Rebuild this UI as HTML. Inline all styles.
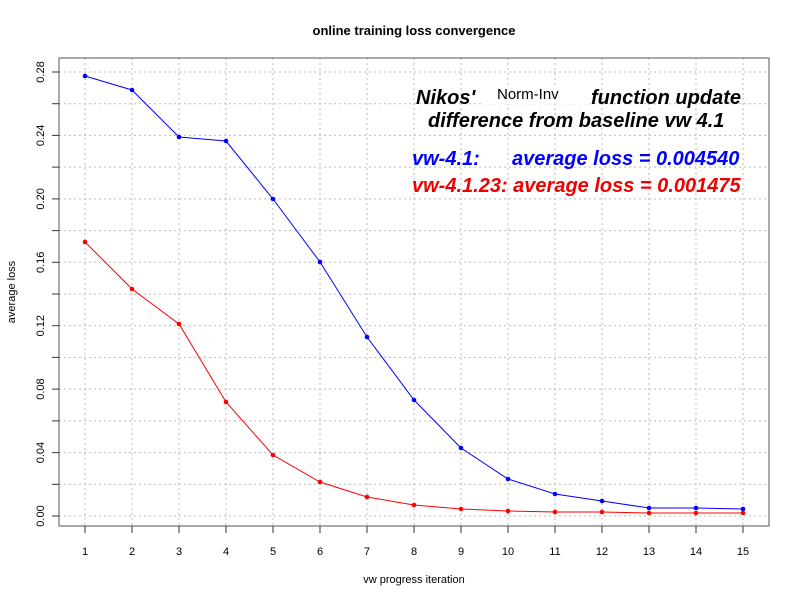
<!DOCTYPE html>
<html><head><style>body{margin:0;background:#fff}svg{display:block;font-family:"Liberation Sans",sans-serif}</style></head><body>
<svg width="800" height="600" viewBox="0 0 800 600">
<rect width="800" height="600" fill="#fff"/>
<g stroke="#bbb" stroke-dasharray="2,3" stroke-width="1">
<line x1="85" y1="58" x2="85" y2="526"/><line x1="132" y1="58" x2="132" y2="526"/><line x1="179" y1="58" x2="179" y2="526"/><line x1="226" y1="58" x2="226" y2="526"/><line x1="273" y1="58" x2="273" y2="526"/><line x1="320" y1="58" x2="320" y2="526"/><line x1="367" y1="58" x2="367" y2="526"/><line x1="414" y1="58" x2="414" y2="526"/><line x1="461" y1="58" x2="461" y2="526"/><line x1="508" y1="58" x2="508" y2="526"/><line x1="555" y1="58" x2="555" y2="526"/><line x1="602" y1="58" x2="602" y2="526"/><line x1="649" y1="58" x2="649" y2="526"/><line x1="696" y1="58" x2="696" y2="526"/><line x1="743" y1="58" x2="743" y2="526"/>
<line x1="59" y1="516" x2="769" y2="516"/><line x1="59" y1="484.3" x2="769" y2="484.3"/><line x1="59" y1="452.6" x2="769" y2="452.6"/><line x1="59" y1="420.9" x2="769" y2="420.9"/><line x1="59" y1="389.1" x2="769" y2="389.1"/><line x1="59" y1="357.4" x2="769" y2="357.4"/><line x1="59" y1="325.7" x2="769" y2="325.7"/><line x1="59" y1="294" x2="769" y2="294"/><line x1="59" y1="262.3" x2="769" y2="262.3"/><line x1="59" y1="230.6" x2="769" y2="230.6"/><line x1="59" y1="198.9" x2="769" y2="198.9"/><line x1="59" y1="167.1" x2="769" y2="167.1"/><line x1="59" y1="135.4" x2="769" y2="135.4"/><line x1="59" y1="103.7" x2="769" y2="103.7"/><line x1="59" y1="72" x2="769" y2="72"/>
</g>
<rect x="59" y="58" width="710" height="468" fill="none" stroke="#555" stroke-width="1"/>
<g stroke="#333">
<line x1="85" y1="526" x2="85" y2="533"/><line x1="132" y1="526" x2="132" y2="533"/><line x1="179" y1="526" x2="179" y2="533"/><line x1="226" y1="526" x2="226" y2="533"/><line x1="273" y1="526" x2="273" y2="533"/><line x1="320" y1="526" x2="320" y2="533"/><line x1="367" y1="526" x2="367" y2="533"/><line x1="414" y1="526" x2="414" y2="533"/><line x1="461" y1="526" x2="461" y2="533"/><line x1="508" y1="526" x2="508" y2="533"/><line x1="555" y1="526" x2="555" y2="533"/><line x1="602" y1="526" x2="602" y2="533"/><line x1="649" y1="526" x2="649" y2="533"/><line x1="696" y1="526" x2="696" y2="533"/><line x1="743" y1="526" x2="743" y2="533"/>
<line x1="52" y1="516" x2="59" y2="516"/><line x1="52" y1="484.3" x2="59" y2="484.3"/><line x1="52" y1="452.6" x2="59" y2="452.6"/><line x1="52" y1="420.9" x2="59" y2="420.9"/><line x1="52" y1="389.1" x2="59" y2="389.1"/><line x1="52" y1="357.4" x2="59" y2="357.4"/><line x1="52" y1="325.7" x2="59" y2="325.7"/><line x1="52" y1="294" x2="59" y2="294"/><line x1="52" y1="262.3" x2="59" y2="262.3"/><line x1="52" y1="230.6" x2="59" y2="230.6"/><line x1="52" y1="198.9" x2="59" y2="198.9"/><line x1="52" y1="167.1" x2="59" y2="167.1"/><line x1="52" y1="135.4" x2="59" y2="135.4"/><line x1="52" y1="103.7" x2="59" y2="103.7"/><line x1="52" y1="72" x2="59" y2="72"/>
</g>
<g font-size="11" text-anchor="middle" fill="#000">
<text x="85" y="555">1</text><text x="132" y="555">2</text><text x="179" y="555">3</text><text x="226" y="555">4</text><text x="273" y="555">5</text><text x="320" y="555">6</text><text x="367" y="555">7</text><text x="414" y="555">8</text><text x="461" y="555">9</text><text x="508" y="555">10</text><text x="555" y="555">11</text><text x="602" y="555">12</text><text x="649" y="555">13</text><text x="696" y="555">14</text><text x="743" y="555">15</text>
<text transform="translate(44,516) rotate(-90)">0.00</text>
<text transform="translate(44,452.6) rotate(-90)">0.04</text>
<text transform="translate(44,389.1) rotate(-90)">0.08</text>
<text transform="translate(44,325.7) rotate(-90)">0.12</text>
<text transform="translate(44,262.3) rotate(-90)">0.16</text>
<text transform="translate(44,198.9) rotate(-90)">0.20</text>
<text transform="translate(44,135.4) rotate(-90)">0.24</text>
<text transform="translate(44,72) rotate(-90)">0.28</text>
<text x="414" y="583">vw progress iteration</text>
<text transform="translate(15,292) rotate(-90)">average loss</text>
<text x="414" y="35" font-weight="bold" font-size="13">online training loss convergence</text>
</g>
<polyline fill="none" stroke="#00f" stroke-width="1" points="85,76 132,90 179,137 226,141 273,199 320,262 367,337 414,400 461,448 508,479 555,494 602,501 649,508 696,508 743,509"/>
<polyline fill="none" stroke="#f00" stroke-width="1" points="85,242 132,289 179,324 226,402 273,455 320,482 367,497 414,505 461,509 508,511 555,512 602,512 649,513 696,513 743,513"/>
<g fill="#00f"><circle cx="85" cy="76" r="2.3"/><circle cx="132" cy="90" r="2.3"/><circle cx="179" cy="137" r="2.3"/><circle cx="226" cy="141" r="2.3"/><circle cx="273" cy="199" r="2.3"/><circle cx="320" cy="262" r="2.3"/><circle cx="367" cy="337" r="2.3"/><circle cx="414" cy="400" r="2.3"/><circle cx="461" cy="448" r="2.3"/><circle cx="508" cy="479" r="2.3"/><circle cx="555" cy="494" r="2.3"/><circle cx="602" cy="501" r="2.3"/><circle cx="649" cy="508" r="2.3"/><circle cx="696" cy="508" r="2.3"/><circle cx="743" cy="509" r="2.3"/></g>
<g fill="#f00"><circle cx="85" cy="242" r="2.3"/><circle cx="132" cy="289" r="2.3"/><circle cx="179" cy="324" r="2.3"/><circle cx="226" cy="402" r="2.3"/><circle cx="273" cy="455" r="2.3"/><circle cx="320" cy="482" r="2.3"/><circle cx="367" cy="497" r="2.3"/><circle cx="414" cy="505" r="2.3"/><circle cx="461" cy="509" r="2.3"/><circle cx="508" cy="511" r="2.3"/><circle cx="555" cy="512" r="2.3"/><circle cx="602" cy="512" r="2.3"/><circle cx="649" cy="513" r="2.3"/><circle cx="696" cy="513" r="2.3"/><circle cx="743" cy="513" r="2.3"/></g>
<g font-weight="bold" font-style="italic" font-size="20">
<text x="416" y="104" fill="#000">Nikos'</text>
<rect x="484" y="86" width="106" height="18" fill="#fff"/>
<text x="497" y="99" fill="#000" font-size="15" font-style="normal" font-weight="normal">Norm-Inv</text>
<text x="591" y="104" fill="#000">function update</text>
<text x="428" y="127" fill="#000">difference from baseline vw 4.1</text>
<text x="412" y="165" fill="#00f">vw-4.1:</text>
<text x="512" y="165" fill="#00f">average loss = 0.004540</text>
<text x="412" y="192" fill="#e00">vw-4.1.23: average loss = 0.001475</text>
</g>
</svg>
</body></html>
